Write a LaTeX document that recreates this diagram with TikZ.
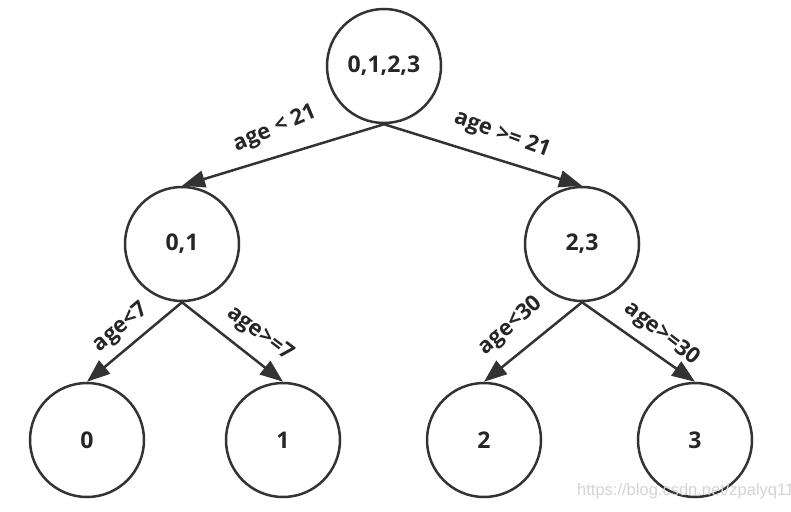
\documentclass[tikz,border=0pt]{standalone}
\usepackage{fontspec}
\setmainfont{Open Sans}
\newfontfamily\wmfont{Liberation Sans}
\usetikzlibrary{arrows.meta}
\definecolor{ink}{HTML}{333333}
\definecolor{txt}{HTML}{262626}
\definecolor{wm}{HTML}{D4D4D4}
\tikzset{
  tnode/.style={circle, draw=ink, line width=2.5pt, minimum size=114pt, inner sep=0pt,
    text=txt, font=\bfseries\fontsize{23}{27}\selectfont},
  tedge/.style={draw=ink, line width=2.5pt, >={Triangle[length=23pt,width=17pt]}},
  lbl/.style={text=txt, font=\bfseries\fontsize{22}{26}\selectfont, inner sep=1pt, anchor=center}
}
\begin{document}
\begin{tikzpicture}[x=1pt,y=-1pt]
\useasboundingbox[fill=white] (0,0) rectangle (791,511);
\node[tnode] (root) at (384,66) {0,1,2,3};
\node[tnode] (n01) at (182,244) {0,1};
\node[tnode] (n23) at (582,244) {2,3};
\node[tnode] (l0) at (87,440) {0};
\node[tnode] (l1) at (283,440) {1};
\node[tnode] (l2) at (484,440) {2};
\node[tnode] (l3) at (695,440) {3};
\draw[tedge,->] (root.south) -- (n01.north);
\draw[tedge,->] (root.south) -- (n23.north);
\draw[tedge,->] (n01.south) -- (l0.north);
\draw[tedge,->] (n01.south) -- (l1.north);
\draw[tedge,->] (n23.south) -- (l2.north);
\draw[tedge,->] (n23.south) -- (l3.north);
\node[lbl, rotate=23] (t1) at (275,129) {age < 21};
\node[lbl, rotate=-20] (t2) at (502,135) {age >= 21};
\node[lbl, rotate=40] (t3) at (121,328) {age<7};
\node[lbl, rotate=-37] (t4) at (260,334) {age>=7};
\node[lbl, rotate=41] (t5) at (511,326) {age<30};
\node[lbl, rotate=-38] (t6) at (662,334) {age>=30};
\begin{scope}
\clip (0,0) rectangle (791,511);
\node[anchor=base west, inner sep=0pt, text=wm, font=\wmfont\fontsize{16.5}{20}\selectfont] (wmark) at (577,495) {https://blog.csdn.net/zpalyq110};
\end{scope}
\end{tikzpicture}
\end{document}
